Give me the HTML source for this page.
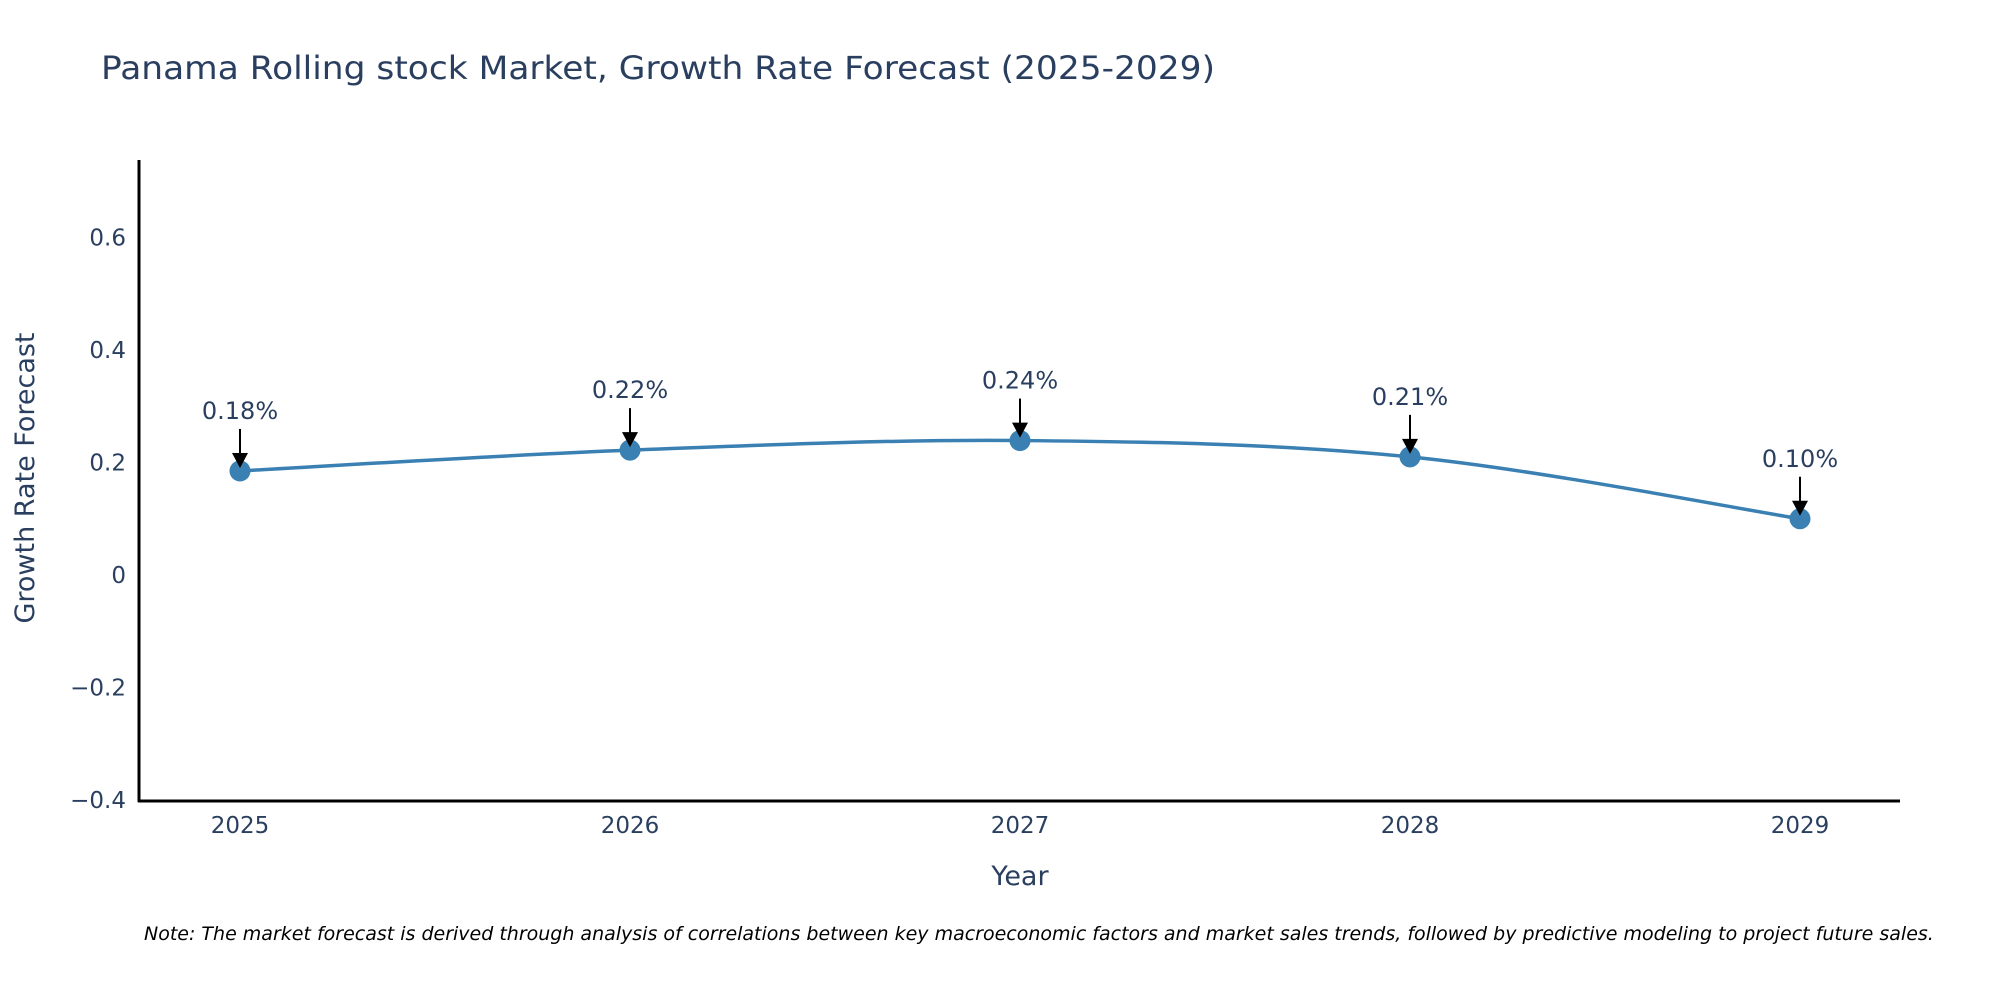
<!DOCTYPE html>
<html><head><meta charset="utf-8"><style>
html,body{margin:0;padding:0;background:#fff;}
svg{display:block;font-family:"DejaVu Sans","Liberation Sans",sans-serif;}
</style></head><body>
<svg id="chart" width="2000" height="1000" viewBox="0 0 2000 1000" xmlns="http://www.w3.org/2000/svg">
<text x="101" y="79" font-size="32" fill="#2a3f5f" textLength="1114" lengthAdjust="spacingAndGlyphs">Panama Rolling stock Market, Growth Rate Forecast (2025-2029)</text>
<g id="yticks"></g>
<g id="xticks"></g>
<line x1="139" y1="160" x2="139" y2="802" stroke="#000" stroke-width="3"/>
<line x1="138" y1="801" x2="1900" y2="801" stroke="#000" stroke-width="3"/>
<text transform="translate(34,478) rotate(-90)" text-anchor="middle" font-size="27" fill="#2a3f5f">Growth Rate Forecast</text>
<text x="1020" y="885" text-anchor="middle" font-size="27" fill="#2a3f5f">Year</text>
<g id="series"></g>
<text x="144" y="940" font-size="19" font-style="italic" fill="#000">Note: The market forecast is derived through analysis of correlations between key macroeconomic factors and market sales trends, followed by predictive modeling to project future sales.</text>
</svg>
<script>
const years = [2025, 2026, 2027, 2028, 2029];
const growth = [0.185, 0.222, 0.239, 0.21, 0.10];
const labels = ["0.18%", "0.22%", "0.24%", "0.21%", "0.10%"];
const yTickVals = [-0.4, -0.2, 0, 0.2, 0.4, 0.6];
const yTickText = ["\u22120.4", "\u22120.2", "0", "0.2", "0.4", "0.6"];

const NS = "http://www.w3.org/2000/svg";
function xs(v){ return 240 + (v - 2025) * 390; }
function ys(v){ return 575 - v * 562.5; }
function mk(tag, attrs, parent){
  const e = document.createElementNS(NS, tag);
  for (const k in attrs) e.setAttribute(k, attrs[k]);
  parent.appendChild(e); return e;
}
const yt = document.getElementById('yticks');
yTickVals.forEach((v,i)=>{
  const t = mk('text', {x:126, y:ys(v)+8, 'text-anchor':'end', 'font-size':23, fill:'#2a3f5f'}, yt);
  
  
  t.textContent = yTickText[i];
});
const xt = document.getElementById('xticks');
years.forEach(y=>{
  const t = mk('text', {x:xs(y), y:833, 'text-anchor':'middle', 'font-size':23, fill:'#2a3f5f'}, xt);
  
  
  t.textContent = String(y);
});
const g = document.getElementById('series');
const pts = years.map((y,i)=>[xs(y), ys(growth[i])]);
let d = 'M' + pts[0][0] + ',' + pts[0][1];
const s = 0.5;
for (let i=0;i<pts.length-1;i++){
  const p0 = pts[i-1]||pts[i], p1 = pts[i], p2 = pts[i+1], p3 = pts[i+2]||pts[i+1];
  const c1 = [p1[0]+(p2[0]-p0[0])*s/3, p1[1]+(p2[1]-p0[1])*s/3];
  const c2 = [p2[0]-(p3[0]-p1[0])*s/3, p2[1]-(p3[1]-p1[1])*s/3];
  d += ' C'+c1[0]+','+c1[1]+' '+c2[0]+','+c2[1]+' '+p2[0]+','+p2[1];
}
const line = mk('path', {d:d, fill:'none', stroke:'#3a80b3', 'stroke-width':3.5}, g);


pts.forEach((p,i)=>{
  const c = mk('circle', {cx:p[0], cy:p[1], r:10.5, fill:'#3a80b3'}, g);
  
  
  const a = mk('line', {x1:p[0], y1:p[1]-42, x2:p[0], y2:p[1]-16, stroke:'#000', 'stroke-width':2}, g);
  
  
  const h = mk('polygon', {points:(p[0]-8)+','+(p[1]-18)+' '+(p[0]+8)+','+(p[1]-18)+' '+p[0]+','+(p[1]-3), fill:'#000'}, g);
  
  
  const t = mk('text', {x:p[0], y:p[1]-52, 'text-anchor':'middle', 'font-size':24, fill:'#2a3f5f'}, g);
  
  
  t.textContent = labels[i];
});
</script>
</body></html>
